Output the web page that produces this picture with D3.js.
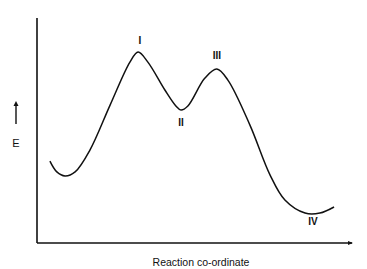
<!DOCTYPE html>
<html><head><meta charset="utf-8">
<script src="https://cdn.jsdelivr.net/npm/d3@7"></script>
<style>body{margin:0;background:#fff}svg{display:block}</style>
</head><body>
<svg id="c" width="367" height="269"></svg>
<script>
// Reaction coordinate (0-100) and energy (0-100)
const coord  = [4.1, 6.3, 8.9, 12.1, 16.8, 23.2, 29.5, 32.1, 35.2, 40.6, 44.1, 45.7, 47.9, 53.3, 57.1, 60.6, 67.6, 74.0, 78.7, 85.1, 89.8, 94.3];
const energy = [36.4, 31.6, 29.8, 31.6, 41.3, 61.3, 80.4, 84.9, 80.4, 68.0, 60.9, 59.1, 60.9, 73.3, 77.3, 72.4, 52.4, 30.2, 19.1, 13.3, 13.3, 16.0];
const pointLabels = ["I", "II", "III", "IV"];
const labelCoord  = [32.7, 45.7, 57.1, 87.6];
const labelEnergy = [88.5, 52.0, 82.0, 8.0];
const xTitle = "Reaction co-ordinate";
const yTitle = "E";

const svg = d3.select("#c");
const x = d3.scaleLinear().domain([0, 100]).range([37, 352]);
const y = d3.scaleLinear().domain([0, 100]).range([243, 18]);

// axes
svg.append("line").attr("x1", x(0)).attr("x2", x(0)).attr("y1", y(0)).attr("y2", y(100))
  .attr("stroke", "#111").attr("stroke-width", 1.6);
svg.append("line").attr("x1", x(0)).attr("x2", x(100)).attr("y1", y(0)).attr("y2", y(0))
  .attr("stroke", "#111").attr("stroke-width", 1.6);
svg.append("path").attr("d", `M${x(100)+1},${y(0)} l-5,-2 l0,4 z`).attr("fill", "#111");

const data = coord.map((c, i) => [c, energy[i]]);
svg.append("path").datum(data)
  .attr("d", d3.line().x(d => x(d[0])).y(d => y(d[1])).curve(d3.curveCatmullRom.alpha(0.5)))
  .attr("fill", "none").attr("stroke", "#111").attr("stroke-width", 1.5);

svg.selectAll("text.pl").data(pointLabels).join("text").attr("class", "pl")
  .attr("x", (d, i) => x(labelCoord[i])).attr("y", (d, i) => y(labelEnergy[i]))
  .attr("text-anchor", "middle").attr("font-family", "Liberation Sans, Arial, sans-serif")
  .attr("font-weight", "bold").attr("font-size", 10).attr("fill", "#111").text(d => d);

svg.append("text").attr("x", 201).attr("y", 266).attr("text-anchor", "middle")
  .attr("font-family", "Liberation Sans, Arial, sans-serif").attr("font-size", 10.5)
  .attr("fill", "#111").text(xTitle);

svg.append("text").attr("x", 16).attr("y", 147).attr("text-anchor", "middle")
  .attr("font-family", "Liberation Sans, Arial, sans-serif").attr("font-size", 11)
  .attr("fill", "#111").text(yTitle);
// small up arrow above E
svg.append("line").attr("x1", 16).attr("x2", 16).attr("y1", 124).attr("y2", 104)
  .attr("stroke", "#111").attr("stroke-width", 1.4);
svg.append("path").attr("d", "M16,101 l-2.5,5 l5,0 z").attr("fill", "#111");
</script>
</body></html>
